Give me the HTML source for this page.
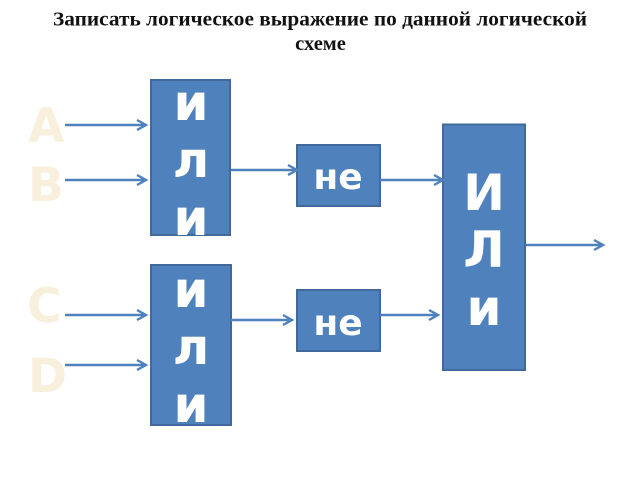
<!DOCTYPE html>
<html><head><meta charset="utf-8"><style>
html,body{margin:0;padding:0;background:#fff}
svg{display:block;filter:blur(0.35px)}
.t{font-family:"Liberation Serif",serif;font-weight:bold;font-size:20.5px;fill:#111}
.w{font-family:"DejaVu Sans",sans-serif;font-weight:bold;fill:#fff;text-anchor:middle}
.l{font-family:"DejaVu Sans",sans-serif;font-weight:bold;fill:#f8f0dd;font-size:47px}
.b{fill:#4f81bd;stroke:#41699b;stroke-width:2}
.a{fill:none;stroke:#4f81bd;stroke-width:2.4}
</style></head><body>
<svg width="640" height="480" viewBox="0 0 640 480" xmlns="http://www.w3.org/2000/svg">
<text class="t" x="53" y="25.500" textLength="534" lengthAdjust="spacingAndGlyphs">Записать логическое выражение по данной логической</text>
<text class="t" x="320.500" y="50" text-anchor="middle">схеме</text>

<text class="l" x="28" y="142">A</text>
<text class="l" x="28" y="201">B</text>
<text class="l" x="27" y="322">C</text>
<text class="l" x="28" y="392">D</text>

<rect class="b" x="151" y="80" width="79" height="155"/>
<rect class="b" x="151" y="265" width="80" height="160"/>
<rect class="b" x="297" y="145" width="83" height="61"/>
<rect class="b" x="297" y="290" width="83" height="61"/>
<rect class="b" x="443" y="124.500" width="82" height="245.500"/>

<text class="w" font-size="50" x="191" y="120">и</text>
<text class="w" font-size="50" x="191" y="177">л</text>
<text class="w" font-size="50" x="191" y="235">и</text>
<text class="w" font-size="50" x="191" y="307">и</text>
<text class="w" font-size="50" x="191" y="364">л</text>
<text class="w" font-size="50" x="191" y="422">и</text>
<text class="w" font-size="36" x="338" y="189">не</text>
<text class="w" font-size="36" x="338" y="335">не</text>
<text class="w" font-size="50" x="484" y="210">И</text>
<text class="w" font-size="50" x="484" y="267">Л</text>
<text class="w" font-size="50" x="484" y="325">и</text>

<path class="a" d="M65 125H146M137 120L146 125L137 130"/>
<path class="a" d="M65 180H146M137 175L146 180L137 185"/>
<path class="a" d="M65 315H146M137 310L146 315L137 320"/>
<path class="a" d="M65 365H146M137 360L146 365L137 370"/>
<path class="a" d="M231 170H297M288 165L297 170L288 175"/>
<path class="a" d="M231 320H292M283 315L292 320L283 325"/>
<path class="a" d="M380 180H443M434 175L443 180L434 185"/>
<path class="a" d="M380 315H438M429 310L438 315L429 320"/>
<path class="a" d="M526 245H603M594 240L603 245L594 250"/>
</svg>
</body></html>
